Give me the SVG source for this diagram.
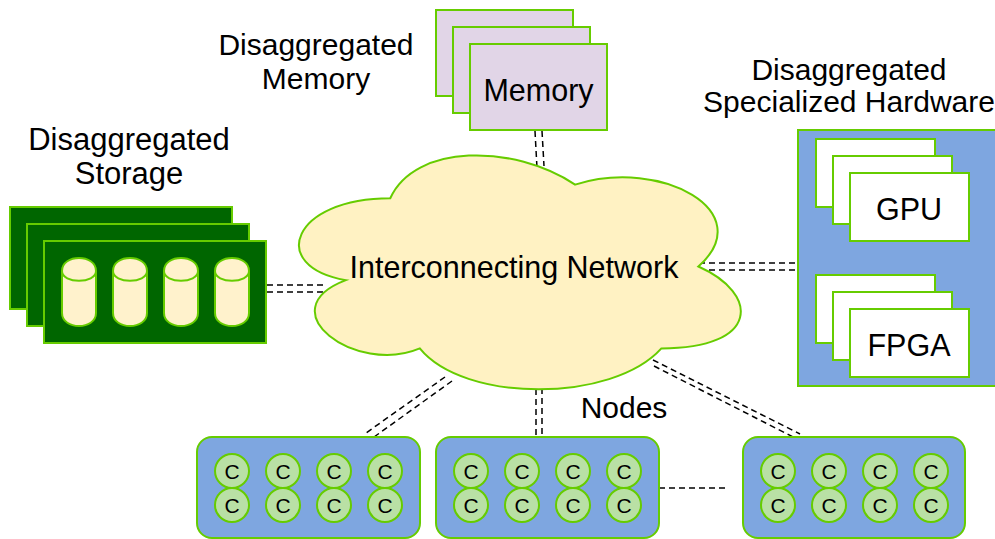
<svg xmlns="http://www.w3.org/2000/svg" xmlns:xlink="http://www.w3.org/1999/xlink" width="995" height="539" viewBox="0 0 995 539">
<style>
text{font-family:"Liberation Sans",Arial,Helvetica,sans-serif;fill:#000}
.lbl{font-size:30px;text-anchor:middle}
.big{font-size:30.5px;text-anchor:middle}
.stl{font-size:31px;text-anchor:middle}
.c{font-size:21px;text-anchor:middle}
.st{fill:#006600;stroke:#66CC00;stroke-width:2}
.cyl{fill:#FFF2CC;stroke:#66CC00;stroke-width:2}
.mem{fill:#E1D5E7;stroke:#66CC00;stroke-width:2}
.cloud{fill:#FFF2C3;stroke:#66CC00;stroke-width:2}
.blue{fill:#7EA6E0;stroke:#66CC00;stroke-width:2}
.wb{fill:#FFFFFF;stroke:#66CC00;stroke-width:2}
.core{fill:#B9E0A5;stroke:#66CC00;stroke-width:2}
.dash{fill:none;stroke:#000;stroke-width:1.5;stroke-dasharray:6 4}
</style>
<defs>
<g id="cylShape">
<path class="cyl" d="M0,13 C0,-4.33 34,-4.33 34,13 L34,55 C34,72.33 0,72.33 0,55 Z"/>
<path class="cyl" d="M0,13 C0,26 34,26 34,13" fill="none"/>
</g>
<g id="cores">
<circle class="core" cx="35" cy="34" r="17"/><circle class="core" cx="86" cy="34" r="17"/><circle class="core" cx="137" cy="34" r="17"/><circle class="core" cx="188" cy="34" r="17"/>
<circle class="core" cx="35" cy="68" r="17"/><circle class="core" cx="86" cy="68" r="17"/><circle class="core" cx="137" cy="68" r="17"/><circle class="core" cx="188" cy="68" r="17"/>
<text class="c" x="35" y="41.5">C</text><text class="c" x="86" y="41.5">C</text><text class="c" x="137" y="41.5">C</text><text class="c" x="188" y="41.5">C</text>
<text class="c" x="35" y="75.5">C</text><text class="c" x="86" y="75.5">C</text><text class="c" x="137" y="75.5">C</text><text class="c" x="188" y="75.5">C</text>
</g>
</defs>

<g id="connectors">
<line class="dash" x1="267" y1="285" x2="323" y2="285"/>
<line class="dash" x1="267" y1="292" x2="325" y2="292"/>
<line class="dash" x1="535" y1="131" x2="537" y2="168"/>
<line class="dash" x1="542" y1="131" x2="544" y2="166"/>
<line class="dash" x1="699" y1="263" x2="798" y2="263"/>
<line class="dash" x1="699" y1="270" x2="798" y2="270"/>
<line class="dash" x1="445" y1="377" x2="366" y2="433"/>
<line class="dash" x1="452" y1="381" x2="374" y2="437"/>
<line class="dash" x1="536" y1="389" x2="536" y2="437"/>
<line class="dash" x1="542" y1="388" x2="542" y2="437"/>
<line class="dash" x1="653" y1="360" x2="800" y2="434"/>
<line class="dash" x1="654" y1="366" x2="797" y2="439"/>
<line class="dash" x1="659" y1="488" x2="725" y2="488"/>
</g>

<g id="network">
<path class="cloud" d="M390.25,198.25 C291.65,198.25 267,266.5 345.9,280.15 C267,310.2 355.7,375.7 419.8,348.4 C464.2,403 612.1,403 661.4,348.4 C760,348.4 760,293.8 698.4,266.5 C760,211.9 661.4,157.3 575.1,184.6 C513.5,143.65 414.9,143.65 390.25,198.25 Z"/>
<text class="big" x="514" y="278">Interconnecting Network</text>
</g>

<g id="storage">
<rect class="st" x="10" y="207" width="222" height="102"/>
<rect class="st" x="27" y="224" width="222" height="102"/>
<rect class="st" x="44" y="241" width="222" height="102"/>
<use xlink:href="#cylShape" href="#cylShape" x="62" y="258"/>
<use xlink:href="#cylShape" href="#cylShape" x="113" y="258"/>
<use xlink:href="#cylShape" href="#cylShape" x="164" y="258"/>
<use xlink:href="#cylShape" href="#cylShape" x="215" y="258"/>
<text class="stl" x="129" y="150">Disaggregated</text>
<text class="stl" x="129" y="184">Storage</text>
</g>

<g id="memory">
<rect class="mem" x="436" y="10" width="137" height="86"/>
<rect class="mem" x="453" y="27" width="137" height="86"/>
<rect class="mem" x="470" y="44" width="137" height="86"/>
<text class="big" x="538.5" y="101">Memory</text>
<text class="lbl" x="316" y="55">Disaggregated</text>
<text class="lbl" x="316" y="89">Memory</text>
</g>

<g id="hardware">
<rect class="blue" x="798" y="130" width="200" height="256"/>
<rect class="wb" x="816" y="139" width="119" height="68"/>
<rect class="wb" x="833" y="156" width="119" height="68"/>
<rect class="wb" x="850" y="173" width="119" height="68"/>
<text class="big" x="909" y="220">GPU</text>
<rect class="wb" x="816" y="275" width="119" height="68"/>
<rect class="wb" x="833" y="292" width="119" height="68"/>
<rect class="wb" x="850" y="309" width="119" height="68"/>
<text class="big" x="909" y="356">FPGA</text>
<text class="lbl" x="849" y="80">Disaggregated</text>
<text class="lbl" x="849" y="112">Specialized Hardware</text>
</g>

<g id="node1">
<rect class="blue" x="197" y="437" width="223" height="101" rx="15" ry="15"/>
<use xlink:href="#cores" href="#cores" x="197" y="437"/>
</g>
<g id="node2">
<rect class="blue" x="436" y="437" width="223" height="101" rx="15" ry="15"/>
<use xlink:href="#cores" href="#cores" x="436" y="437"/>
</g>
<g id="node3">
<rect class="blue" x="743" y="437" width="222" height="101" rx="15" ry="15"/>
<use xlink:href="#cores" href="#cores" x="743" y="437"/>
</g>
<g id="nodesLabel">
<text class="lbl" x="624" y="418">Nodes</text>
</g>
</svg>
